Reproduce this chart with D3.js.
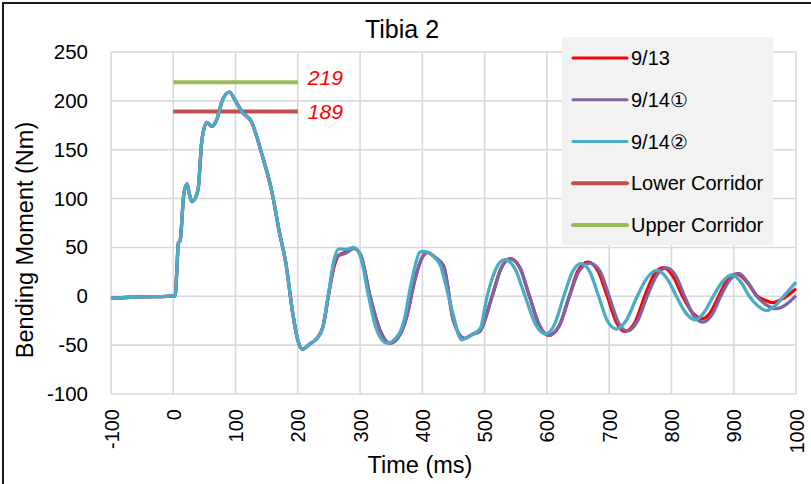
<!DOCTYPE html>
<html>
<head>
<meta charset="utf-8">
<script src="https://cdn.jsdelivr.net/npm/d3@7"></script>
<style>
  body { margin: 0; background: #ffffff; }
  svg { display: block; font-family: "Liberation Sans", Arial, sans-serif; }
</style>
</head>
<body>
<script>
// tick values
var xTicks = [-100, 0, 100, 200, 300, 400, 500, 600, 700, 800, 900, 1000];
var yTicks = [-100, -50, 0, 50, 100, 150, 200, 250];

// part of the trace the three runs share (impact up to the first rebound)
var riseTime =   [-100, -70, -40, -10, 3, 6, 8, 11, 17, 22, 26, 30, 35, 40, 46, 54, 62, 70, 78, 90, 99, 110, 126, 142, 158, 170, 181, 192, 200, 207, 219, 232, 240];
var riseMoment = [-2, -1, -0.5, 0, 0.5, 30, 54, 57, 105, 115, 104, 97, 100, 110, 160, 178, 174, 181, 199, 209, 201, 189, 178, 146, 108, 67, 33, -18, -45, -54, -49, -42, -32];

// 9/13
var s1Time =   [250, 258, 266, 277, 290, 301, 316, 332, 348, 365, 376, 386, 400, 408, 420, 434, 450, 468, 480, 492, 512, 526, 541, 556, 572, 588, 602, 620, 636, 650, 666, 682, 697, 712, 725, 742, 757, 772, 787, 803, 818, 834, 849, 862, 876, 890, 905, 922, 938, 950, 962, 980, 1000];
var s1Moment = [4, 30, 42, 45, 49, 42, 0, -35, -48, -38, -18, 12, 40, 45, 40, 31, -25, -43, -39, -36, 0, 28, 38.5, 30, 0, -30, -40, -30, 0, 26, 35, 26, 0, -27, -36, -26, 0, 22, 29.3, 20, 0, -17, -23, -17, 0, 17, 23, 14, 0, -4, -6.5, -2, 7.7];

// 9/14①
var s2Time =   [250, 258, 266, 277, 290, 301, 316, 332, 348, 365, 376, 386, 400, 408, 420, 434, 450, 468, 480, 492, 512, 526, 541, 556, 572, 588, 603, 620, 636, 652, 669, 685, 700, 715, 729, 745, 761, 777, 792, 807, 821, 836, 850, 865, 879, 894, 908, 923, 937, 953, 968, 985, 1000];
var s2Moment = [4, 33, 42, 44, 49, 42, 0, -35, -48, -38, -18, 12, 40, 44.7, 40, 31, -25, -43, -39, -36, 0, 28, 38, 30, 0, -30, -40, -30, 0, 26, 34, 26, 0, -27, -35.5, -26, 0, 22, 29, 21, 0, -20, -26.5, -19, 0, 17, 23.5, 14, 0, -9, -12.7, -8, 0.7];

// 9/14②
var s3Time =   [250, 258, 266, 277, 290, 301, 314, 327, 343, 362, 372, 378, 383, 396, 402, 428, 437, 448, 463, 480, 493, 504, 518, 532, 548, 565, 582, 598, 612, 627, 641, 655, 669, 683, 697, 712, 728, 745, 761, 777, 792, 808, 823, 838, 852, 867, 882, 897, 911, 925, 939, 953, 966, 980, 1000];
var s3Moment = [6, 37, 48.6, 48, 50, 40, -1, -35, -48, -39, -21, 0, 16, 45, 46, 33, 13, -15, -44.5, -39, -33, 0, 28, 37.5, 29, 0, -29, -38.5, -29, 0, 25, 33.5, 25, 0, -25, -33.5, -24, 0, 19, 26.5, 19, 0, -17, -24, -17, 0, 15, 22, 15, 0, -10, -14.6, -10, 0, 14.5];

// corridors
var corridorTime = [0, 200];
var lowerCorridor = [189, 189];
var upperCorridor = [219, 219];

var seriesNames = ["9/13", "9/14\u2460", "9/14\u2461", "Lower Corridor", "Upper Corridor"];
var seriesColors = ["#ff0000", "#8064a2", "#4bacc6", "#c0504d", "#9bbb59"];

var chartSize = { width: 811, height: 484 };
var plotBox = { left: 111, right: 796, top: 52, bottom: 394 };

function toPoints(times, values) {
    return times.map(function(t, i) { return [t, values[i]]; });
}

var traces = [
    toPoints(riseTime.concat(s1Time), riseMoment.concat(s1Moment)),
    toPoints(riseTime.concat(s2Time), riseMoment.concat(s2Moment)),
    toPoints(riseTime.concat(s3Time), riseMoment.concat(s3Moment))
];
var corridors = [
    { pts: toPoints(corridorTime, lowerCorridor), color: seriesColors[3], label: "189", lift: 0 },
    { pts: toPoints(corridorTime, upperCorridor), color: seriesColors[4], label: "219", lift: 5 }
];

var svg = d3.select("body").append("svg")
    .attr("width", chartSize.width)
    .attr("height", chartSize.height);

var x = d3.scaleLinear().domain([-100, 1000]).range([plotBox.left, plotBox.right]);
var y = d3.scaleLinear().domain([-100, 250]).range([plotBox.bottom, plotBox.top]);

// outer frame (only the left and top edges show in the picture)
svg.append("path")
    .attr("d", "M3," + chartSize.height + "V3H" + chartSize.width)
    .attr("fill", "none")
    .attr("stroke", "#1a1a1a")
    .attr("stroke-width", 2);

// grid
svg.append("g").selectAll("line").data(xTicks).enter().append("line")
    .attr("x1", function(d) { return x(d); })
    .attr("x2", function(d) { return x(d); })
    .attr("y1", plotBox.top)
    .attr("y2", plotBox.bottom)
    .attr("stroke", "#d9d9d9")
    .attr("stroke-width", 1.6);

svg.append("g").selectAll("line").data(yTicks).enter().append("line")
    .attr("x1", plotBox.left)
    .attr("x2", plotBox.right)
    .attr("y1", function(d) { return y(d); })
    .attr("y2", function(d) { return y(d); })
    .attr("stroke", "#d9d9d9")
    .attr("stroke-width", 1.6);

// axes labels via d3 axes, domain and ticks hidden
var plainNum = function(d) { return String(d); };

var yAxis = svg.append("g")
    .attr("transform", "translate(" + (plotBox.left - 23) + ",0)")
    .call(d3.axisLeft(y).tickValues(yTicks).tickSize(0).tickPadding(0).tickFormat(plainNum));
yAxis.select(".domain").remove();
yAxis.selectAll("text")
    .attr("font-size", 20.5)
    .attr("font-family", "Liberation Sans, Arial, sans-serif")
    .attr("fill", "#000");

var xAxis = svg.append("g")
    .attr("transform", "translate(0," + plotBox.bottom + ")")
    .call(d3.axisBottom(x).tickValues(xTicks).tickSize(0).tickFormat(plainNum));
xAxis.select(".domain").remove();
xAxis.selectAll("text")
    .attr("font-size", 20)
    .attr("font-family", "Liberation Sans, Arial, sans-serif")
    .attr("fill", "#000")
    .attr("text-anchor", "end")
    .attr("transform", "rotate(-90)")
    .attr("x", -15)
    .attr("y", 0)
    .attr("dy", "0.35em");

// corridors
var line = d3.line()
    .x(function(d) { return x(d[0]); })
    .y(function(d) { return y(d[1]); });

svg.append("g").selectAll("path").data(corridors).enter().append("path")
    .attr("d", function(d) { return line(d.pts); })
    .attr("fill", "none")
    .attr("stroke", function(d) { return d.color; })
    .attr("stroke-width", 4);

svg.append("g").selectAll("text").data(corridors).enter().append("text")
    .attr("x", function(d) { return x(d.pts[1][0]) + 10; })
    .attr("y", function(d) { return y(d.pts[1][1]) - d.lift; })
    .attr("dy", "0.36em")
    .attr("font-size", 21)
    .attr("font-style", "italic")
    .attr("fill", "#ff0000")
    .text(function(d) { return d.label; });

// test traces
var smooth = d3.line()
    .curve(d3.curveMonotoneX)
    .x(function(d) { return x(d[0]); })
    .y(function(d) { return y(d[1]); });

svg.append("g").selectAll("path").data(traces).enter().append("path")
    .attr("d", smooth)
    .attr("fill", "none")
    .attr("stroke", function(d, i) { return seriesColors[i]; })
    .attr("stroke-width", 3.3)
    .attr("stroke-linejoin", "round");

// legend
var legend = svg.append("g");
legend.append("rect")
    .attr("x", 562)
    .attr("y", 37)
    .attr("width", 211)
    .attr("height", 208)
    .attr("fill", "#f2f2f2");

var legendRow = d3.scalePoint().domain(seriesNames).range([58, 225]);

var rows = legend.selectAll("g.row").data(seriesNames).enter().append("g")
    .attr("class", "row")
    .attr("transform", function(d) { return "translate(0," + legendRow(d) + ")"; });
rows.append("line")
    .attr("x1", 573).attr("x2", 627)
    .attr("stroke", function(d, i) { return seriesColors[i]; })
    .attr("stroke-width", function(d, i) { return i < 3 ? 3 : 4; })
    .attr("stroke-linecap", "round");
rows.append("text")
    .attr("x", 631)
    .attr("dy", "0.36em")
    .attr("font-size", 20)
    .attr("fill", "#000")
    .text(function(d) { return d; });

// titles
svg.append("text")
    .attr("x", 402)
    .attr("y", 38)
    .attr("text-anchor", "middle")
    .attr("font-size", 25)
    .text("Tibia 2");

svg.append("text")
    .attr("x", 420)
    .attr("y", 473)
    .attr("text-anchor", "middle")
    .attr("font-size", 23.5)
    .text("Time (ms)");

svg.append("text")
    .attr("transform", "translate(33,240) rotate(-90)")
    .attr("text-anchor", "middle")
    .attr("font-size", 23.5)
    .text("Bending Moment (Nm)");
</script>
</body>
</html>
